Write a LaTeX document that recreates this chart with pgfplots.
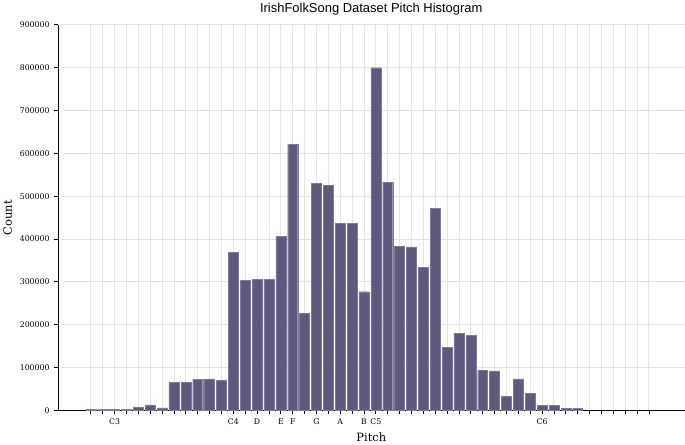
\documentclass[border=0pt]{standalone}
\usepackage{pgfplots}
\pgfplotsset{compat=1.18}
\usepackage{fontspec}
\setmainfont{DejaVu Serif}
\newfontfamily\titlefont{Liberation Sans}
\definecolor{barc}{HTML}{5E5A7E}
\definecolor{barl}{HTML}{7E7A9A}
\definecolor{gridc}{HTML}{E4E4E4}
\begin{document}
\begin{tikzpicture}
\begin{axis}[
  scale only axis,
  width=629pt, height=387pt,
  xmin=-2.77, xmax=50,
  ymin=0, ymax=900000,
  axis x line*=bottom, axis y line*=left,
  axis line style={black, line width=0.8pt, -},
  xtick={0,...,47},
  xticklabels={,,C3,,,,,,,,,,C4,,D,,E,F,,G,,A,,B,C5,,,,,,,,,,,,,,C6,,,,,,,,,},
  ytick={0,100000,...,900000},
  scaled y ticks=false,
  /pgf/number format/assume math mode=true,
  yticklabel style={/pgf/number format/fixed, /pgf/number format/1000 sep={}, font=\fontsize{7.8}{8}\selectfont, xshift=-1pt},
  xticklabel style={font=\fontsize{7.8}{8}\selectfont, yshift=-1pt},
  tick align=outside,
  major tick length=4pt,
  tick style={black, line width=0.8pt},
  grid=major,
  major grid style={gridc, line width=0.9pt},
  xlabel={Pitch}, ylabel={Count},
  label style={font=\fontsize{11.5}{13}\selectfont},
  xlabel style={yshift=-1pt},
  ylabel style={yshift=1pt},
  title={\titlefont IrishFolkSong Dataset Pitch Histogram},
  title style={font=\fontsize{13}{15}\selectfont, yshift=0pt},
  ybar, bar width=0.84,
]
\addplot[fill=barc, draw=barl, line width=0.4pt] coordinates {
(0,2000) (1,2000) (2,3000) (3,3000) (4,7500) (5,13000) (6,6000)
(7,66000) (8,66000) (9,72000) (10,73500) (11,70000)
(12,369000) (13,304000) (14,306000) (15,306000) (16,406000) (17,621000)
(18,227000) (19,530000) (20,525000) (21,436000) (22,437000) (23,277000)
(24,800000) (25,533000) (26,383000) (27,381500) (28,333500) (29,471000)
(30,147000) (31,180500) (32,174500) (33,93000) (34,92000) (35,33000)
(36,73700) (37,40000) (38,11000) (39,11000) (40,4000) (41,5000)
};
\end{axis}
\end{tikzpicture}
\end{document}
